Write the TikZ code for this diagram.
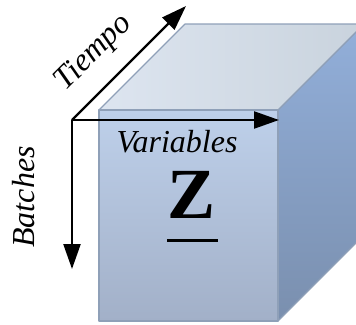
\documentclass[tikz,border=0pt]{standalone}
\usepackage{fontspec}
\setmainfont{Liberation Serif}
\usetikzlibrary{arrows.meta}
\definecolor{edgec}{HTML}{8FA0B8}
\definecolor{frontT}{HTML}{BED0EA}
\definecolor{frontB}{HTML}{A2B0C8}
\definecolor{topL}{HTML}{DDE5F0}
\definecolor{topR}{HTML}{C9D3DD}
\definecolor{sideT}{HTML}{92AFDA}
\definecolor{sideB}{HTML}{7A8FAE}
\tikzset{
  axis/.style={line width=2.3pt,-{Triangle[length=25pt,width=17pt]}},
  lbl/.style={font=\itshape\fontsize{32}{32}\selectfont,inner sep=0pt},
  face/.style={draw=edgec,line width=1.2pt,line join=round}
}
\begin{document}
\begin{tikzpicture}[x=1pt,y=-1pt]
\useasboundingbox (0,0) rectangle (356,324);
\clip (0,0) rectangle (356,324);
% cube corners
\coordinate (ftl) at (99,110);
\coordinate (ftr) at (278,110);
\coordinate (fbl) at (99,321);
\coordinate (fbr) at (278,321);
\coordinate (btl) at (185,24);
\coordinate (btr) at (364,24);
\coordinate (bbr) at (364,235);
% faces
\shade[face,top color=sideT,bottom color=sideB] (ftr) -- (btr) -- (bbr) -- (fbr) -- cycle;
\shade[face,left color=topL,right color=topR] (ftl) -- (btl) -- (btr) -- (ftr) -- cycle;
\shade[face,top color=frontT,bottom color=frontB] (ftl) -- (ftr) -- (fbr) -- (fbl) -- cycle;
% axes
\coordinate (o) at (72,120);
\coordinate (xe) at (279,120);
\coordinate (ye) at (72,269);
\coordinate (ze) at (186,6);
\draw[axis] (o) -- (xe);
\draw[axis] (o) -- (ye);
\draw[axis] (o) -- (ze);
% labels
\node[lbl,anchor=base] (var) at (177,152) {Variables};
\node[lbl,rotate=45] (tie) at (94,53) {Tiempo};
\node[lbl,rotate=90] (bat) at (24,197) {Batches};
\node[inner sep=0pt,font=\bfseries\fontsize{72}{72}\selectfont,anchor=base] (z) at (192,218) {Z};
\draw[line width=3pt] (167,240) -- (218,240);
\end{tikzpicture}
\end{document}
